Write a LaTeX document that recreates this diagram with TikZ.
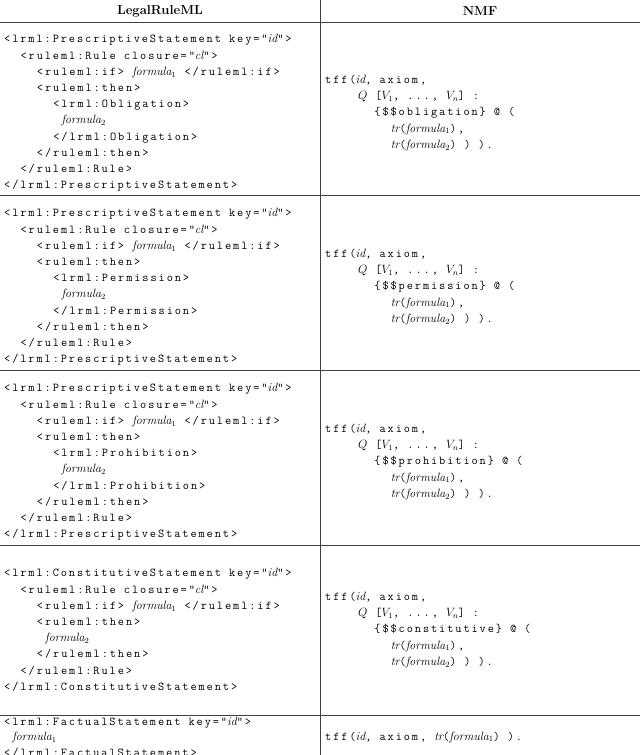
\documentclass[tikz,border=0pt]{standalone}
\usepackage{fontspec}
\newfontfamily\codefont[LetterSpace=16]{Latin Modern Mono}
\newcommand{\ind}[1]{\hspace*{#1\dimexpr 8.2pt\relax}}
\newcommand{\ii}[1]{{\normalfont\itshape #1}}
\newcommand{\fm}[1]{\ii{formula}$_{#1}$}
\newcommand{\mv}[1]{{\normalfont $#1$}}
\begin{document}
\begin{tikzpicture}[x=1pt,y=1pt,
  rule/.style={line width=0.8pt,draw=black!75},
  code/.style={anchor=west,align=left,inner sep=0pt,font=\codefont\fontsize{12}{16.2}\selectfont},
  head/.style={font=\bfseries\fontsize{13}{15}\selectfont}]
\useasboundingbox (0,0) rectangle (640,-755);
\draw[rule] (320,0) -- (320,-755);
\foreach \y in {22,195,370,545,715} \draw[rule] (0,-\y) -- (640,-\y);
\node[head] (h1) at (160,-11) {LegalRuleML};
\node[head] (h2) at (480,-11) {NMF};
% row 1
\node[code] (l1) at (4,-113) {<lrml:PrescriptiveStatement key="\ii{id}">\\
\ind{2}<ruleml:Rule closure="\ii{cl}">\\
\ind{4}<ruleml:if> \fm1 </ruleml:if>\\
\ind{4}<ruleml:then>\\
\ind{6}<lrml:Obligation>\\
\ind{7}\fm2\\
\ind{6}</lrml:Obligation>\\
\ind{4}</ruleml:then>\\
\ind{2}</ruleml:Rule>\\
</lrml:PrescriptiveStatement>};
\node[code] (r1) at (325,-113) {tff(\ii{id}, axiom,\\
\ind{4}\mv{Q} [\mv{V_1}, ..., \mv{V_n}] :\\
\ind{6}\{\$\$obligation\} @ (\\
\ind{8}\ii{tr}(\fm1),\\
\ind{8}\ii{tr}(\fm2) ) ).};
% row 2
\node[code] (l2) at (4,-287) {<lrml:PrescriptiveStatement key="\ii{id}">\\
\ind{2}<ruleml:Rule closure="\ii{cl}">\\
\ind{4}<ruleml:if> \fm1 </ruleml:if>\\
\ind{4}<ruleml:then>\\
\ind{6}<lrml:Permission>\\
\ind{7}\fm2\\
\ind{6}</lrml:Permission>\\
\ind{4}</ruleml:then>\\
\ind{2}</ruleml:Rule>\\
</lrml:PrescriptiveStatement>};
\node[code] (r2) at (325,-287) {tff(\ii{id}, axiom,\\
\ind{4}\mv{Q} [\mv{V_1}, ..., \mv{V_n}] :\\
\ind{6}\{\$\$permission\} @ (\\
\ind{8}\ii{tr}(\fm1),\\
\ind{8}\ii{tr}(\fm2) ) ).};
% row 3
\node[code] (l3) at (4,-462) {<lrml:PrescriptiveStatement key="\ii{id}">\\
\ind{2}<ruleml:Rule closure="\ii{cl}">\\
\ind{4}<ruleml:if> \fm1 </ruleml:if>\\
\ind{4}<ruleml:then>\\
\ind{6}<lrml:Prohibition>\\
\ind{7}\fm2\\
\ind{6}</lrml:Prohibition>\\
\ind{4}</ruleml:then>\\
\ind{2}</ruleml:Rule>\\
</lrml:PrescriptiveStatement>};
\node[code] (r3) at (325,-462) {tff(\ii{id}, axiom,\\
\ind{4}\mv{Q} [\mv{V_1}, ..., \mv{V_n}] :\\
\ind{6}\{\$\$prohibition\} @ (\\
\ind{8}\ii{tr}(\fm1),\\
\ind{8}\ii{tr}(\fm2) ) ).};
% row 4
\node[code] (l4) at (4,-630) {<lrml:ConstitutiveStatement key="\ii{id}">\\
\ind{2}<ruleml:Rule closure="\ii{cl}">\\
\ind{4}<ruleml:if> \fm1 </ruleml:if>\\
\ind{4}<ruleml:then>\\
\ind{5}\fm2\\
\ind{4}</ruleml:then>\\
\ind{2}</ruleml:Rule>\\
</lrml:ConstitutiveStatement>};
\node[code] (r4) at (325,-630) {tff(\ii{id}, axiom,\\
\ind{4}\mv{Q} [\mv{V_1}, ..., \mv{V_n}] :\\
\ind{6}\{\$\$constitutive\} @ (\\
\ind{8}\ii{tr}(\fm1),\\
\ind{8}\ii{tr}(\fm2) ) ).};
% row 5
\node[code,font=\codefont\fontsize{12}{15.5}\selectfont] (l5) at (4,-737) {<lrml:FactualStatement key="\ii{id}">\\
\ind{1}\fm1\\
</lrml:FactualStatement>};
\node[code] (r5) at (325,-737) {tff(\ii{id}, axiom, \ii{tr}(\fm1) ).};
\end{tikzpicture}
\end{document}
